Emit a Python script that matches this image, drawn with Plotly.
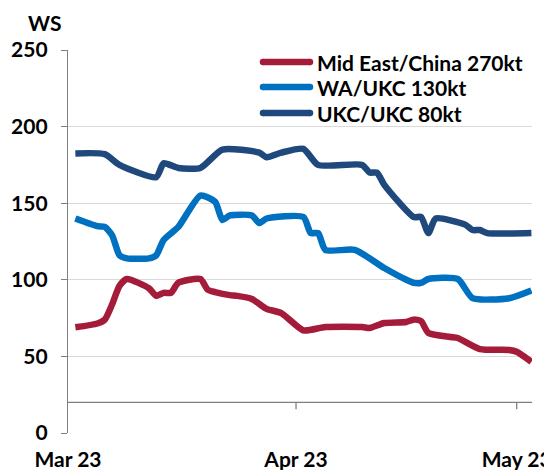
import plotly.graph_objects as go

# Mid East/China 270kt
me_dates = ['2023-03-02', '2023-03-05', '2023-03-06', '2023-03-07', '2023-03-08', '2023-03-09',
            '2023-03-12', '2023-03-13', '2023-03-14', '2023-03-15', '2023-03-16', '2023-03-19',
            '2023-03-20', '2023-03-21', '2023-03-23', '2023-03-24', '2023-03-26', '2023-03-28',
            '2023-03-30', '2023-04-02', '2023-04-05', '2023-04-10', '2023-04-11', '2023-04-13',
            '2023-04-16', '2023-04-17', '2023-04-18', '2023-04-19', '2023-04-22', '2023-04-23',
            '2023-04-26', '2023-04-30', '2023-05-01', '2023-05-03']
me_vals = [69, 71.5, 74, 84, 96, 100.5,
           94.5, 89.5, 91.5, 91.5, 98, 100.5,
           93.5, 92, 90, 89.5, 87.5, 81,
           78.3, 67, 69.2, 69.2, 68.5, 71.8,
           72.5, 74, 73, 65.3, 62.7, 62,
           54.8, 54.2, 53, 46.5]

# WA/UKC 130kt
wa_dates = ['2023-03-02', '2023-03-05', '2023-03-06', '2023-03-07', '2023-03-08', '2023-03-09',
            '2023-03-12', '2023-03-13', '2023-03-14', '2023-03-16', '2023-03-19', '2023-03-21',
            '2023-03-22', '2023-03-23', '2023-03-26', '2023-03-27', '2023-03-28', '2023-04-02',
            '2023-04-03', '2023-04-04', '2023-04-05', '2023-04-09', '2023-04-13', '2023-04-16',
            '2023-04-17', '2023-04-18', '2023-04-19', '2023-04-23', '2023-04-25', '2023-04-30',
            '2023-05-03']
wa_vals = [140, 135, 134.5, 129, 116, 114,
           114, 116, 126, 134.5, 155, 151,
           139, 142, 142, 137, 140, 141,
           130.5, 130.5, 119.5, 119.5, 107.7, 100,
           98, 98, 100.5, 100.5, 88, 88,
           93]

# UKC/UKC 80kt
ukc_dates = ['2023-03-02', '2023-03-06', '2023-03-08', '2023-03-13', '2023-03-14', '2023-03-16',
             '2023-03-19', '2023-03-22', '2023-03-27', '2023-03-28', '2023-03-30', '2023-04-02',
             '2023-04-04', '2023-04-10', '2023-04-11', '2023-04-12', '2023-04-13', '2023-04-17',
             '2023-04-18', '2023-04-19', '2023-04-20', '2023-04-24', '2023-04-25', '2023-04-26',
             '2023-04-27', '2023-05-03']
ukc_vals = [182.5, 182, 175, 167, 176, 173,
            173, 185, 183, 180, 183, 185.5,
            175, 175, 170, 170, 162, 141,
            141, 130.5, 140, 136, 132.5, 132.5,
            130.5, 130.5]

series = [
    ('Mid East/China 270kt', me_dates, me_vals, '#A51C3A'),
    ('WA/UKC 130kt', wa_dates, wa_vals, '#0070C0'),
    ('UKC/UKC 80kt', ukc_dates, ukc_vals, '#1F497D'),
]

tick_vals = ['2023-03-01', '2023-04-01', '2023-05-01']
tick_text = ['Mar 23', 'Apr 23', 'May 23']

# plot area in figure pixels (the page adds an 8px body margin)
OFF = 8
L, T, W, H = 60, 42, 464, 383
font_main = dict(family='Lato', size=21, color='#000000', weight='bold')


def px(x):
    # screen x -> paper
    return (x - OFF - L) / W


def py(y):
    # screen y -> paper
    return (T + H - (y - OFF)) / H


fig = go.Figure()

for name, d, v, c in series:
    fig.add_trace(go.Scatter(
        x=d, y=v, mode='lines', name=name,
        line=dict(color=c, width=6.5, shape='spline', smoothing=0.6),
        showlegend=False
    ))

shapes = []
annotations = []

# x axis line sits at 20 on the value axis
shapes.append(dict(type='line', xref='paper', yref='y', x0=0, x1=1, y0=20, y1=20,
                   line=dict(color='#7f7f7f', width=1.3)))
for tv in tick_vals[1:]:
    shapes.append(dict(type='line', xref='x', yref='y', ysizemode='pixel', yanchor=20,
                       x0=tv, x1=tv, y0=0, y1=-7, line=dict(color='#7f7f7f', width=1.3)))

# legend drawn by hand
rows = [62, 87, 113]
for (name, d, v, c), ry in zip(series, rows):
    shapes.append(dict(type='line', xref='paper', yref='paper',
                       x0=px(263), x1=px(310), y0=py(ry), y1=py(ry),
                       line=dict(color=c, width=6.5)))
    for ex in (263, 310):
        shapes.append(dict(type='circle', xref='paper', yref='paper',
                           xsizemode='pixel', ysizemode='pixel',
                           xanchor=px(ex), yanchor=py(ry),
                           x0=-3.25, x1=3.25, y0=-3.25, y1=3.25,
                           fillcolor=c, line=dict(width=0)))
    annotations.append(dict(text=name, xref='paper', yref='paper', x=px(315), y=py(ry),
                            xanchor='left', yanchor='middle', showarrow=False, font=font_main))

annotations.append(dict(text='WS', xref='paper', yref='paper', x=px(44), y=py(23),
                        xanchor='center', yanchor='middle', showarrow=False, font=font_main))

fig.update_layout(
    width=552, height=470,
    margin=dict(l=L, r=552 - L - W, t=T, b=470 - T - H, autoexpand=False),
    plot_bgcolor='white', paper_bgcolor='white',
    font=font_main,
    shapes=shapes,
    annotations=annotations,
    showlegend=False,
    xaxis=dict(
        type='date', range=['2023-03-01', '2023-05-03 02:00'],
        tickvals=tick_vals, ticktext=tick_text,
        showgrid=False, showline=False, zeroline=False, ticks='',
        tickfont=font_main, ticklabelstandoff=12, automargin=False,
    ),
    yaxis=dict(
        range=[0, 250], dtick=50, tick0=0,
        showgrid=True, gridcolor='#d9d9d9', gridwidth=1,
        showline=True, linecolor='#7f7f7f', linewidth=1.3,
        ticks='outside', ticklen=6, tickcolor='#7f7f7f',
        zeroline=False, tickfont=font_main, ticklabelstandoff=9, automargin=False,
    ),
)

fig.write_html("out.html")
